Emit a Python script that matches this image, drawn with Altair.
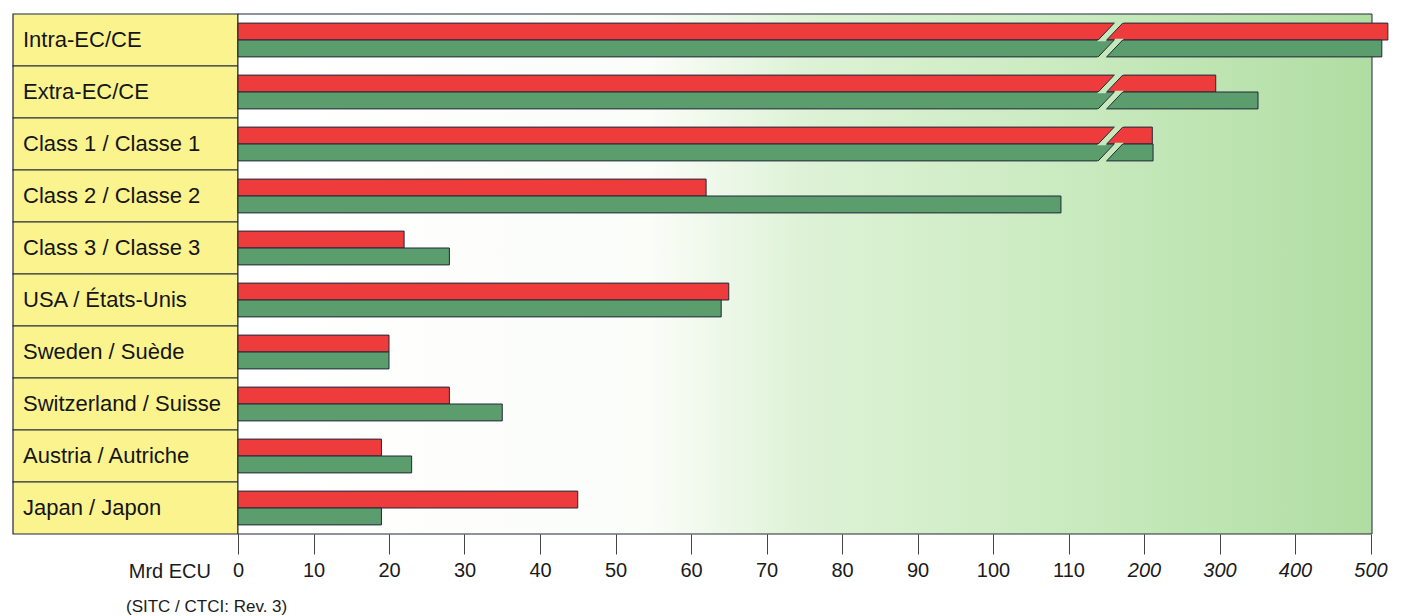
import altair as alt
import pandas as pd

# ---------------- data ----------------
categories = [
    "Intra-EC/CE", "Extra-EC/CE", "Class 1 / Classe 1", "Class 2 / Classe 2",
    "Class 3 / Classe 3", "USA / États-Unis", "Sweden / Suède",
    "Switzerland / Suisse", "Austria / Autriche", "Japan / Japon",
]
series_names = ["Import", "Export"]
red_values = [523, 295, 211, 62, 22, 65, 20, 28, 19, 45]
green_values = [515, 351, 212, 109, 28, 64, 20, 35, 23, 19]
tick_values = [0, 10, 20, 30, 40, 50, 60, 70, 80, 90, 100, 110, 200, 300, 400, 500]
axis_title = "Mrd ECU"
note_text = "(SITC / CTCI: Rev. 3)"
break_low = 110
break_high = 200
scale_max = 500

rows = []
for c, r, g in zip(categories, red_values, green_values):
    rows.append({"category": c, "series": series_names[0], "value": r})
    rows.append({"category": c, "series": series_names[1], "value": g})
df = pd.DataFrame(rows)
labels_df = pd.DataFrame({"category": categories})

# ---------------- style ----------------
FONT = "Liberation Sans"
RED = "#ee3b3b"
GREEN = "#5b9d6c"
YELLOW = "#fbf48e"
DARK = "#23283a"
CUT_BG = "#c6e9bc"

W = 1134
H = 520
LW = 225
STEP = 75.5  # pixels per major tick step

xscale = alt.Scale(
    domain=[0, break_low, break_high, scale_max],
    range=[0, 11 * STEP, 12 * STEP, 15 * STEP],
)
yscale_bars = alt.Scale(type="band", paddingInner=0.35, paddingOuter=0.175)
ysort = categories

x_axis = alt.Axis(
    values=tick_values,
    title=None,
    domain=False,
    grid=False,
    tickSize=20,
    tickColor="#444444",
    tickWidth=1,
    labelFontSize=20,
    labelFont=FONT,
    labelColor="#1a1a1a",
    labelPadding=6,
    labelFlush=False,
    labelOverlap=False,
    labelFontStyle={"expr": "datum.value >= 200 ? 'italic' : 'normal'"},
)

# background panel with gradient
bg = alt.Chart(pd.DataFrame({"k": [0]})).mark_rect(
    fill=alt.LinearGradient(
        gradient="linear",
        x1=0, x2=1, y1=0, y2=0,
        stops=[
            alt.GradientStop(offset=0, color="#ffffff"),
            alt.GradientStop(offset=0.36, color="#fbfdf9"),
            alt.GradientStop(offset=0.5, color="#def2d6"),
            alt.GradientStop(offset=0.75, color="#c8eabe"),
            alt.GradientStop(offset=1, color="#b0dda2"),
        ],
    ),
    stroke=DARK,
    strokeWidth=1,
).encode(x=alt.value(0), x2=alt.value(W), y=alt.value(0), y2=alt.value(H))

bars = alt.Chart(df).mark_bar(stroke=DARK, strokeWidth=1).encode(
    x=alt.X("value:Q", scale=xscale, axis=x_axis),
    y=alt.Y("category:N", sort=ysort, scale=yscale_bars, axis=None),
    yOffset=alt.YOffset("series:N", sort=series_names),
    color=alt.Color("series:N", scale=alt.Scale(domain=series_names, range=[RED, GREEN]), legend=None),
)

BAR_H = (H / len(categories)) * 0.65 / 2
CUT_SIZE = BAR_H ** 2
FILL_PATH = "M0.58,-1.14 L1.58,-1.14 L-0.58,1.14 L-1.58,1.14 Z"
EDGE_PATH = "M0.45,-1 L-1.45,1 M1.45,-1 L-0.45,1"
cut_x = 160

cut_fill = alt.Chart(df).transform_filter(alt.datum.value > break_low).mark_point(
    shape=FILL_PATH, filled=True, fill=CUT_BG, strokeWidth=0, opacity=1, size=CUT_SIZE
).encode(
    x=alt.X(datum=cut_x, type="quantitative"),
    y=alt.Y("category:N", sort=ysort),
    yOffset=alt.YOffset("series:N", sort=series_names),
)
cut_edge = alt.Chart(df).transform_filter(alt.datum.value > break_low).mark_point(
    shape=EDGE_PATH, filled=False, stroke=DARK, strokeWidth=1, opacity=1, size=CUT_SIZE
).encode(
    x=alt.X(datum=cut_x, type="quantitative"),
    y=alt.Y("category:N", sort=ysort),
    yOffset=alt.YOffset("series:N", sort=series_names),
)

right = alt.layer(bg, bars, cut_fill, cut_edge).properties(width=W, height=H)

# left label boxes
yscale_boxes = alt.Scale(type="band", paddingInner=0, paddingOuter=0)
boxes = alt.Chart(labels_df).mark_rect(fill=YELLOW, stroke=DARK, strokeWidth=1.2).encode(
    y=alt.Y("category:N", sort=ysort, scale=yscale_boxes, axis=None),
    x=alt.value(0),
    x2=alt.value(LW),
)
box_text = alt.Chart(labels_df).mark_text(
    align="left", baseline="middle", fontSize=22, font=FONT, color="#151515"
).encode(
    y=alt.Y("category:N", sort=ysort),
    x=alt.value(10),
    text="category:N",
)
unit_text = alt.Chart(pd.DataFrame({"t": [axis_title]})).mark_text(
    align="right", baseline="middle", fontSize=20, font=FONT, color="#1a1a1a"
).encode(x=alt.value(LW - 27), y=alt.value(H + 38), text="t:N")
note = alt.Chart(pd.DataFrame({"t": [note_text]})).mark_text(
    align="left", baseline="middle", fontSize=17, font=FONT, color="#1a1a1a"
).encode(x=alt.value(113), y=alt.value(H + 73), text="t:N")

left = alt.layer(boxes, box_text, unit_text, note).properties(width=LW, height=H)

chart = alt.hconcat(left, right, spacing=0, bounds="flush").properties(
    padding={"left": 4, "top": 5, "right": 5, "bottom": 5},
    background="#ffffff",
).configure_view(strokeWidth=0)

chart.save("out.html", embed_options={"renderer": "svg", "actions": False})
